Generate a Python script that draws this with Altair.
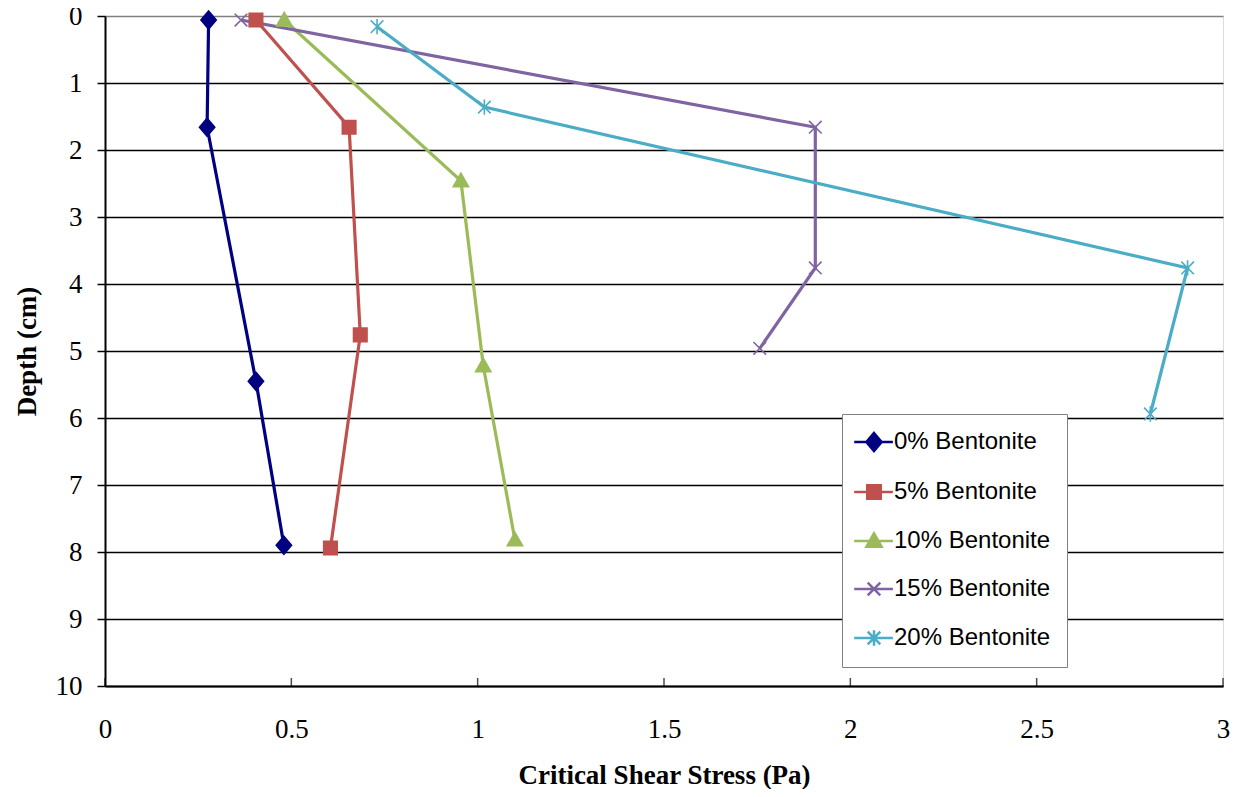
import altair as alt
import pandas as pd

series = ["0% Bentonite", "5% Bentonite", "10% Bentonite", "15% Bentonite", "20% Bentonite"]
colors = ["#000080", "#C0504D", "#9BBB59", "#8064A2", "#4BACC6"]

stress_0 = [0.278, 0.274, 0.405, 0.48]
depth_0 = [0.06, 1.66, 5.45, 7.9]
stress_5 = [0.405, 0.655, 0.685, 0.605]
depth_5 = [0.06, 1.66, 4.76, 7.94]
stress_10 = [0.481, 0.955, 1.015, 1.10]
depth_10 = [0.06, 2.46, 5.22, 7.82]
stress_15 = [0.365, 1.906, 1.906, 1.757]
depth_15 = [0.06, 1.66, 3.76, 4.96]
stress_20 = [0.73, 1.018, 2.905, 2.805]
depth_20 = [0.16, 1.36, 3.76, 5.94]

x_ticks = [0, 0.5, 1, 1.5, 2, 2.5, 3]
y_ticks = [0, 1, 2, 3, 4, 5, 6, 7, 8, 9, 10]

marker_paths = [
    "M0,-1L0.85,0L0,1L-0.85,0Z",
    "M-0.75,-0.75L0.75,-0.75L0.75,0.75L-0.75,0.75Z",
    "M0,-0.85L0.85,0.65L-0.85,0.65Z",
    "M-0.7,-0.7L0.7,0.7M-0.7,0.7L0.7,-0.7",
    "M-0.7,-0.7L0.7,0.7M-0.7,0.7L0.7,-0.7M0,-0.85L0,0.85",
]
line_seg = "M-2.2,0L2.1,0"
legend_paths = [p + line_seg for p in marker_paths]

rows = []
for name, xs, ds in zip(series,
                        [stress_0, stress_5, stress_10, stress_15, stress_20],
                        [depth_0, depth_5, depth_10, depth_15, depth_20]):
    for i, (xv, dv) in enumerate(zip(xs, ds)):
        rows.append({"series": name, "legend": name, "idx": i, "stress": xv, "depth": dv})
df = pd.DataFrame(rows)
ticks_df = pd.DataFrame({"t": x_ticks, "d": [10] * len(x_ticks)})

serif = "Liberation Serif"

x_enc = alt.X("stress:Q", scale=alt.Scale(domain=[0, 3], nice=False),
              axis=alt.Axis(values=x_ticks, format="~g", title="Critical Shear Stress (Pa)", grid=False,
                            ticks=False, tickSize=0, labelPadding=30, titlePadding=20,
                            labelFont=serif, labelFontSize=27, titleFont=serif,
                            titleFontSize=27, titleFontWeight="bold", labelColor="black",
                            titleColor="black", domainColor="black", domainWidth=2,
                            labelFlush=False, labelOverlap=False))
y_enc = alt.Y("depth:Q", scale=alt.Scale(domain=[0, 10], reverse=True, nice=False),
              axis=alt.Axis(values=y_ticks, format="~g", title="Depth (cm)", grid=True,
                            gridColor={"condition": {"test": "datum.value === 0", "value": "#808080"}, "value": "black"},
                            gridWidth=1.3, tickSize=8, tickColor="black", tickWidth=1.5,
                            labelPadding=15, titlePadding=14,
                            labelFont=serif, labelFontSize=27, titleFont=serif,
                            titleFontSize=27, titleFontWeight="bold", labelColor="black",
                            titleColor="black", domainColor="black", domainWidth=2,
                            labelFlush=False, labelOverlap=False))

color_scale = alt.Scale(domain=series, range=colors)

lines = alt.Chart(df).mark_line(strokeWidth=3.2).encode(
    x=x_enc, y=y_enc,
    color=alt.Color("series:N", scale=color_scale, legend=None),
    order=alt.Order("idx:Q"),
)

points = alt.Chart(df).mark_point(filled=True, size=324, strokeWidth=1.6, opacity=1).encode(
    x="stress:Q", y="depth:Q",
    color=alt.Color("series:N", scale=color_scale, legend=None),
    stroke=alt.Stroke("series:N", scale=color_scale, legend=None),
    shape=alt.Shape("series:N", scale=alt.Scale(domain=series, range=marker_paths), legend=None),
)

legend_cfg = dict(title=None, orient="none", legendX=737, legendY=398,
                  labelFont="Liberation Sans", labelFontSize=24, labelColor="black",
                  labelLimit=400, padding=16, rowPadding=24, symbolOffset=4, labelOffset=8,
                  strokeColor="#808080", fillColor="white", symbolStrokeWidth=2.5,
                  symbolSize=324)

legend_layer = alt.Chart(df).transform_filter("datum.depth < -100").mark_point(
    filled=False, size=324, strokeWidth=2.5, opacity=1).encode(
    x="stress:Q", y="depth:Q",
    color=alt.Color("legend:N", scale=alt.Scale(domain=series, range=colors),
                    legend=alt.Legend(**legend_cfg)),
    fill=alt.Fill("legend:N", scale=alt.Scale(domain=series, range=colors),
                  legend=alt.Legend(**legend_cfg)),
    shape=alt.Shape("legend:N", scale=alt.Scale(domain=series, range=legend_paths),
                    legend=alt.Legend(**legend_cfg)),
)

xticks = alt.Chart(ticks_df).mark_tick(orient="vertical", size=8, thickness=1.5,
                                       color="black", yOffset=-4).encode(
    x="t:Q", y="d:Q")

chart = alt.layer(lines, xticks, points, legend_layer).resolve_scale(
    color="independent", fill="independent", stroke="independent", shape="independent"
).properties(
    width=1118, height=670,
    autosize=alt.AutoSizeParams(type="none"),
    padding={"left": 97, "top": 8, "right": 10, "bottom": 103},
).configure_view(stroke="#808080", strokeWidth=2).configure(background="white")

chart.save("out.html", embed_options={"renderer": "svg", "actions": False})
